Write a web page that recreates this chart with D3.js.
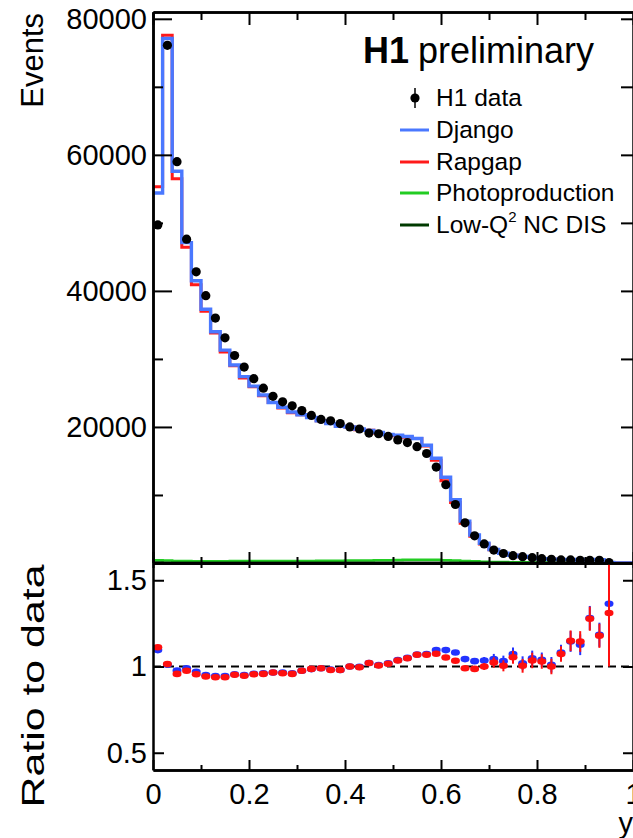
<!DOCTYPE html>
<html>
<head>
<meta charset="utf-8">
<script src="https://cdn.jsdelivr.net/npm/d3@7"></script>
<style>
  body { margin: 0; background: #fff; }
  svg { display: block; }
  text { font-family: "Liberation Sans", Arial, sans-serif; fill: #000; }
</style>
</head>
<body>
<svg id="chart" width="633" height="838"></svg>
<script>
// bin edges in y (50 bins of 0.02)
var edges = [0,0.02,0.04,0.06,0.08,0.1,0.12,0.14,0.16,0.18,0.2,0.22,0.24,0.26,0.28,0.3,0.32,0.34,0.36,0.38,
  0.4,0.42,0.44,0.46,0.48,0.5,0.52,0.54,0.56,0.58,0.6,0.62,0.64,0.66,0.68,0.7,0.72,0.74,0.76,0.78,
  0.8,0.82,0.84,0.86,0.88,0.9,0.92,0.94,0.96,0.98,1];

// H1 data (bin centres 0.01 ... 0.95)
var h1data = [49700,76100,59000,47600,42800,39300,36000,33100,30500,28800,
  27100,25700,24500,23700,23100,22400,21700,21100,20900,20500,
  20000,19700,19100,19000,18600,18100,17700,17100,16100,14100,
  11500,8600,5900,4000,2800,1900,1400,1070,930,780,
  630,540,450,450,400,400,400,60];

var django = [54400,77100,57600,47100,41500,37300,34000,31300,29100,27400,
  26000,24700,23600,22900,22200,21800,21400,20900,20500,20100,
  20000,19700,19500,19200,18900,18800,18600,18300,17300,15400,
  12600,9300,6150,4120,2900,1980,1440,1150,950,820,
  650,550,490,520,450,510,470,80,0,0];

var rapgap = [55300,77600,56500,46400,40900,37000,33800,31000,29000,27200,
  25900,24600,23600,22800,22100,21800,21400,20900,20500,20100,
  20000,19600,19500,19100,18900,18700,18500,18300,17200,15100,
  12100,8900,5840,3940,2800,1940,1410,1130,930,810,
  650,540,480,520,460,510,470,80,0,0];

var photoprod = [420,380,300,280,270,270,270,270,280,280,
  280,280,290,290,300,300,310,320,330,340,
  350,360,380,400,420,440,460,480,480,460,
  420,360,300,250,200,160,130,110,100,90,
  80,70,60,60,50,50,40,40,0,0];

var lowq2 = [60,50,40,30,30,30,30,30,30,30,
  30,30,30,30,30,30,30,30,30,30,
  30,30,30,30,30,30,30,30,30,30,
  30,30,20,20,20,20,20,10,10,10,
  10,10,10,10,10,10,10,10,0,0];

// ratio to data
var ratioDjango = [1.095,1.010,0.977,0.990,0.970,0.950,0.945,0.945,0.955,0.950,
  0.958,0.960,0.965,0.965,0.960,0.975,0.985,0.990,0.982,0.980,
  1.000,0.998,1.020,1.008,1.018,1.037,1.050,1.070,1.072,1.095,
  1.095,1.081,1.043,1.031,1.035,1.043,1.031,1.072,1.019,1.047,
  1.039,1.010,1.081,1.145,1.126,1.281,1.184,1.364];

var ratioRapgap = [1.112,1.014,0.957,0.975,0.955,0.942,0.938,0.938,0.952,0.946,
  0.955,0.957,0.965,0.961,0.957,0.975,0.986,0.990,0.980,0.980,
  1.000,0.996,1.020,1.006,1.016,1.035,1.048,1.068,1.068,1.074,
  1.052,1.033,0.990,0.986,1.000,1.023,1.004,1.054,1.004,1.035,
  1.029,1.000,1.072,1.149,1.145,1.277,1.178,1.310];

var ratioErr = [0.008,0.006,0.006,0.006,0.006,0.006,0.006,0.006,0.006,0.006,
  0.006,0.006,0.006,0.006,0.006,0.006,0.006,0.006,0.006,0.006,
  0.006,0.006,0.006,0.006,0.006,0.006,0.006,0.006,0.007,0.008,
  0.009,0.010,0.012,0.015,0.020,0.030,0.032,0.038,0.040,0.045,
  0.042,0.045,0.045,0.060,0.060,0.070,0.070,0.310];

var yMajor = [20000,40000,60000,80000];
var yMinor = [10000,30000,50000,70000];
var xMajor = [0,0.2,0.4,0.6,0.8,1];
var xMinor = [0.1,0.3,0.5,0.7,0.9];
var rTicks = [0.5,1,1.5];

var legendNames = ["H1 data","Django","Rapgap","Photoproduction","Low-Q"];
var colDjango = "#4a78ff", colRapgap = "#ff1a1a", colPhoto = "#22cc22", colLowq = "#003a00";

var svg = d3.select("#chart");
svg.append("rect").attr("width",633).attr("height",838).attr("fill","#fff");

var x = d3.scaleLinear().domain([0,1]).range([153,633]);
var yTop = d3.scaleLinear().domain([0,81000]).range([563,12]);
var yRat = d3.scaleLinear().domain([0.4,1.6]).range([770,563]);

var centre = function(i){ return (edges[i] + edges[i+1]) / 2; };

//style an axis group like ROOT
var style_axis = function(g, fs){
  g.select("path.domain").attr("stroke","#000").attr("stroke-width",2.5);
  g.selectAll(".tick line").attr("stroke","#000").attr("stroke-width",2);
  g.selectAll(".tick text").attr("font-size",fs).attr("fill","#000")
    .attr("font-family","Liberation Sans, Arial, sans-serif");
};

var add_axis = function(axis, tx, ty, fs){
  var g = svg.append("g").attr("transform","translate(" + tx + "," + ty + ")").call(axis);
  style_axis(g, fs);
  return g;
};

// ---------- top panel ----------
svg.append("clipPath").attr("id","clipTop").append("rect")
  .attr("x",153).attr("y",12).attr("width",480).attr("height",551);

var stepLine = d3.line()
  .x(function(d){ return x(d[0]); })
  .y(function(d){ return yTop(d[1]); })
  .curve(d3.curveStepAfter);

var hist_points = function(vals){
  var pts = vals.map(function(v,i){ return [edges[i], v]; });
  pts.push([edges[vals.length], vals[vals.length-1]]);
  return pts;
};

var topG = svg.append("g").attr("clip-path","url(#clipTop)");
topG.append("path").attr("d", stepLine(hist_points(photoprod)))
  .attr("fill","none").attr("stroke",colPhoto).attr("stroke-width",2.5);
topG.append("path").attr("d", stepLine(hist_points(lowq2)))
  .attr("fill","none").attr("stroke",colLowq).attr("stroke-width",2.5);
topG.append("path").attr("d", stepLine(hist_points(rapgap)))
  .attr("fill","none").attr("stroke",colRapgap).attr("stroke-width",3);
topG.append("path").attr("d", stepLine(hist_points(django)))
  .attr("fill","none").attr("stroke",colDjango).attr("stroke-width",3.4);

topG.selectAll("circle.data").data(h1data).enter().append("circle")
  .attr("class","data")
  .attr("cx", function(d,i){ return x(centre(i)); })
  .attr("cy", function(d){ return yTop(d); })
  .attr("r",4.6).attr("fill","#000");

// axes of the top panel (ticks pointing inwards)
add_axis(d3.axisLeft(yTop).tickValues(yMajor).tickSizeInner(-19).tickSizeOuter(0)
  .tickPadding(6).tickFormat(d3.format("d")), 153, 0, 29);
add_axis(d3.axisLeft(yTop).tickValues(yMinor).tickSizeInner(-10).tickSizeOuter(0)
  .tickFormat(""), 153, 0, 29);
add_axis(d3.axisRight(yTop).tickValues(yMajor.concat(yMinor)).tickSizeInner(-12).tickSizeOuter(0)
  .tickFormat(""), 633, 0, 29);
add_axis(d3.axisTop(x).tickValues(xMajor).tickSizeInner(-13).tickSizeOuter(0)
  .tickFormat(""), 0, 12, 29);
add_axis(d3.axisTop(x).tickValues(xMinor).tickSizeInner(-8).tickSizeOuter(0)
  .tickFormat(""), 0, 12, 29);
add_axis(d3.axisBottom(x).tickValues(xMajor).tickSizeInner(-11).tickSizeOuter(0)
  .tickFormat(""), 0, 563, 29);
add_axis(d3.axisBottom(x).tickValues(xMinor).tickSizeInner(-6).tickSizeOuter(0)
  .tickFormat(""), 0, 563, 29);

svg.append("text").attr("transform","translate(43,13) rotate(-90)")
  .attr("text-anchor","end").attr("font-size",31).text("Events");

// title
var title = svg.append("text").attr("x",363).attr("y",63).attr("font-size",36);
title.append("tspan").attr("font-weight","bold").text("H1");
title.append("tspan").attr("dx",9).text("preliminary");

// legend
var legY = [98,130,162,193,225];
var legCols = [null, colDjango, colRapgap, colPhoto, colLowq];
var leg = svg.append("g");
legY.forEach(function(ly,i){
  if(i === 0){
    leg.append("line").attr("x1",415).attr("x2",415).attr("y1",ly-10).attr("y2",ly+10)
      .attr("stroke","#000").attr("stroke-width",1.5);
    leg.append("circle").attr("cx",415).attr("cy",ly).attr("r",4.6).attr("fill","#000");
  }else{
    leg.append("line").attr("x1",400).attr("x2",429).attr("y1",ly).attr("y2",ly)
      .attr("stroke",legCols[i]).attr("stroke-width",3);
  }
  var t = leg.append("text").attr("x",436).attr("y",ly+8).attr("font-size",24.5).text(legendNames[i]);
  if(i === 4){
    t.append("tspan").attr("font-size",15).attr("dy",-11).text("2");
    t.append("tspan").attr("dy",11).text(" NC DIS");
  }
});

// ---------- ratio panel ----------
svg.append("clipPath").attr("id","clipRat").append("rect")
  .attr("x",153).attr("y",563).attr("width",480).attr("height",207);

var rat = svg.append("g").attr("clip-path","url(#clipRat)");
rat.append("line").attr("x1",x(0)).attr("x2",x(1)).attr("y1",yRat(1)).attr("y2",yRat(1))
  .attr("stroke","#000").attr("stroke-width",2).attr("stroke-dasharray","8,5");

var draw_ratio = function(vals, col){
  var g = rat.append("g");
  g.selectAll("line").data(vals).enter().append("line")
    .attr("x1", function(d,i){ return x(centre(i)); })
    .attr("x2", function(d,i){ return x(centre(i)); })
    .attr("y1", function(d,i){ return yRat(d + ratioErr[i]); })
    .attr("y2", function(d,i){ return yRat(d - ratioErr[i]); })
    .attr("stroke",col).attr("stroke-width",2);
  g.selectAll("ellipse").data(vals).enter().append("ellipse")
    .attr("cx", function(d,i){ return x(centre(i)); })
    .attr("cy", function(d){ return yRat(d); })
    .attr("rx",4.5).attr("ry",3.3).attr("fill",col);
};
draw_ratio(ratioDjango, "#2233ff");
draw_ratio(ratioRapgap, "#ff0f0f");

add_axis(d3.axisLeft(yRat).tickValues(rTicks).tickSizeInner(-11).tickSizeOuter(0)
  .tickPadding(6).tickFormat(function(d){ return d === 1 ? "1" : d3.format(".1f")(d); }), 153, 0, 29);
add_axis(d3.axisRight(yRat).tickValues(rTicks).tickSizeInner(-10).tickSizeOuter(0)
  .tickFormat(""), 633, 0, 29);
add_axis(d3.axisBottom(x).tickValues(xMajor).tickSizeInner(-10).tickSizeOuter(0)
  .tickPadding(13).tickFormat(function(d){ return d === 1 ? "1" : d === 0 ? "0" : d3.format(".1f")(d); }), 0, 770, 29);
add_axis(d3.axisBottom(x).tickValues(xMinor).tickSizeInner(-5).tickSizeOuter(0)
  .tickFormat(""), 0, 770, 29);
add_axis(d3.axisTop(x).tickValues(xMajor.concat(xMinor)).tickSizeInner(-5).tickSizeOuter(0)
  .tickFormat(""), 0, 563, 29);

svg.append("text").attr("transform","translate(44,686) rotate(-90)")
  .attr("text-anchor","middle").attr("font-size",31)
  .attr("textLength",243).attr("lengthAdjust","spacingAndGlyphs").text("Ratio to data");

svg.append("text").attr("x",633).attr("y",833).attr("text-anchor","end")
  .attr("font-size",29).text("y");
</script>
</body>
</html>
